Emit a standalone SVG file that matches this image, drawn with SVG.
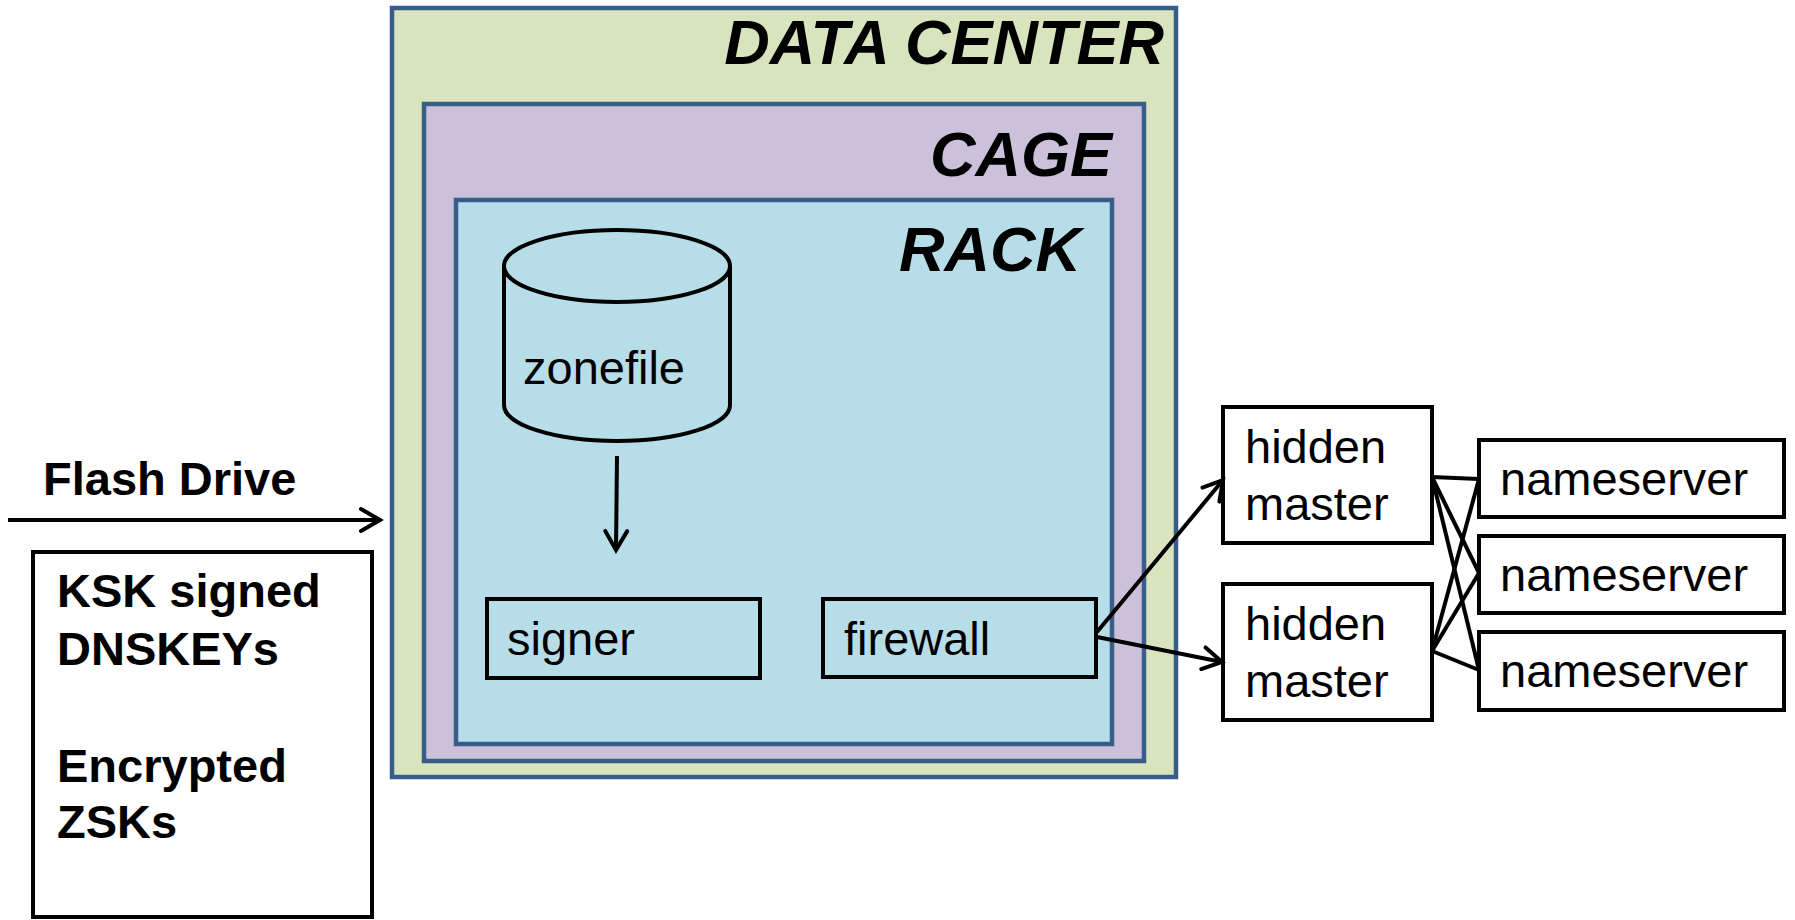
<svg xmlns="http://www.w3.org/2000/svg" width="1795" height="920" viewBox="0 0 1795 920">
<defs>
<style>
.t{font-family:"Liberation Sans",Arial,sans-serif;font-size:47px;fill:#000}
.b{font-weight:bold}
.h{font-family:"Liberation Sans",Arial,sans-serif;font-weight:bold;font-style:italic;font-size:63px;text-anchor:end;fill:#000}
.c{stroke:#385D8A;stroke-width:4.5}
.box{fill:#fff;stroke:#000;stroke-width:4}
.ibox{fill:none;stroke:#000;stroke-width:4}
.ln{stroke:#000;stroke-width:4;fill:none}
</style>
<marker id="arr" markerUnits="userSpaceOnUse" viewBox="-24 -14 34 28" markerWidth="34" markerHeight="28" refX="0" refY="0" orient="auto">
<path d="M-19,-11 L0,0 L-19,11" fill="none" stroke="#000" stroke-width="4" stroke-linejoin="miter" stroke-linecap="round"/>
</marker>
</defs>
<rect width="1795" height="920" fill="#fff"/>
<g id="datacenter">
<rect class="c" x="392" y="8" width="784" height="769" fill="#D7E4BD"/>
<text class="h" x="1164" y="64">DATA CENTER</text>
</g>
<g id="cage">
<rect class="c" x="424" y="104" width="720" height="657" fill="#CCC1DA"/>
<text class="h" x="1112" y="176">CAGE</text>
</g>
<g id="rack">
<rect class="c" x="456" y="200" width="656" height="544" fill="#B7DEE8"/>
<text class="h" x="1081" y="271">RACK</text>
</g>
<g id="zonefile">
<path d="M504,266 V405 A113,36 0 0 0 730,405 V266" fill="#B7DEE8" stroke="#000" stroke-width="4"/>
<ellipse cx="617" cy="266" rx="113" ry="36" fill="#B7DEE8" stroke="#000" stroke-width="4"/>
<text class="t" x="523" y="384">zonefile</text>
</g>
<g id="signer">
<rect class="ibox" x="487" y="599" width="273" height="79"/>
<text class="t" x="507" y="655">signer</text>
</g>
<g id="firewall">
<rect class="ibox" x="823" y="599" width="273" height="78"/>
<text class="t" x="844" y="655">firewall</text>
</g>
<g id="hiddenmaster1">
<rect class="box" x="1223" y="407" width="209" height="136"/>
<text class="t" x="1245" y="463">hidden</text>
<text class="t" x="1245" y="520">master</text>
</g>
<g id="hiddenmaster2">
<rect class="box" x="1223" y="584" width="209" height="136"/>
<text class="t" x="1245" y="640">hidden</text>
<text class="t" x="1245" y="697">master</text>
</g>
<g id="nameserver1">
<rect class="box" x="1479" y="440" width="305" height="77"/>
<text class="t" x="1500" y="495">nameserver</text>
</g>
<g id="nameserver2">
<rect class="box" x="1479" y="536" width="305" height="77"/>
<text class="t" x="1500" y="591">nameserver</text>
</g>
<g id="nameserver3">
<rect class="box" x="1479" y="632" width="305" height="78"/>
<text class="t" x="1500" y="687">nameserver</text>
</g>
<g id="flashdrive">
<rect class="box" x="33" y="552" width="339" height="365"/>
<text class="t b" x="57" y="607">KSK signed</text>
<text class="t b" x="57" y="665">DNSKEYs</text>
<text class="t b" x="57" y="782">Encrypted</text>
<text class="t b" x="57" y="838">ZSKs</text>
</g>
<g id="connectors">
<line class="ln" x1="8" y1="520" x2="380" y2="520" marker-end="url(#arr)"/>
<text class="t b" x="43" y="495">Flash Drive</text>
<line class="ln" x1="617" y1="456" x2="616" y2="550" marker-end="url(#arr)"/>
<line class="ln" x1="1097" y1="632" x2="1223" y2="480" marker-end="url(#arr)"/>
<line class="ln" x1="1097" y1="637" x2="1222" y2="662" marker-end="url(#arr)"/>
<line class="ln" x1="1432" y1="477" x2="1479" y2="479"/>
<line class="ln" x1="1432" y1="477" x2="1479" y2="573"/>
<line class="ln" x1="1432" y1="477" x2="1479" y2="670"/>
<line class="ln" x1="1432" y1="651" x2="1479" y2="479"/>
<line class="ln" x1="1432" y1="651" x2="1479" y2="573"/>
<line class="ln" x1="1432" y1="651" x2="1479" y2="670"/>
</g>
</svg>
